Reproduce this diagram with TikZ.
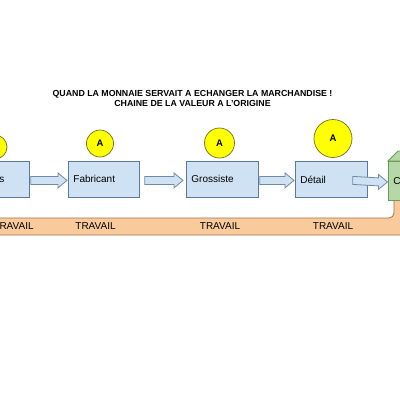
\documentclass[tikz,border=0pt]{standalone}
\usepackage{fontspec}
\setmainfont{Liberation Sans}
\usetikzlibrary{calc}
\definecolor{boxfill}{HTML}{CFE2F3}
\definecolor{boxline}{HTML}{5B7A99}
\definecolor{arrline}{HTML}{6F8AA8}
\definecolor{sun}{HTML}{FFFF00}
\definecolor{sunline}{HTML}{6E6E30}
\definecolor{greenfill}{HTML}{B6D7A8}
\definecolor{greenline}{HTML}{6A9A55}
\definecolor{bandfill}{HTML}{F9CB9C}
\definecolor{bandline}{HTML}{A6714A}
\tikzset{
  stepbox/.style={draw=boxline, fill=boxfill, line width=0.8pt, minimum height=36pt,
    inner xsep=5pt, inner ysep=0pt, align=left, anchor=north west,
    font=\fontsize{10}{12}\selectfont},
  sunnode/.style={circle, draw=sunline, fill=sun, line width=0.7pt, inner sep=0pt,
    font=\bfseries\fontsize{9.5}{11}\selectfont},
  workl/.style={font=\fontsize{10}{12}\selectfont, inner sep=0pt},
  arrowstyle/.style={draw=arrline, fill=boxfill, line width=0.8pt, line join=miter},
  greenbox/.style={draw=greenline, fill=greenfill, line width=0.8pt, minimum width=40pt,
    minimum height=39pt, anchor=north west, inner xsep=4.5pt, text width=30pt, align=left,
    font=\fontsize{10}{12}\selectfont},
  titlenode/.style={align=center, font=\bfseries\fontsize{8.8}{9.4}\selectfont, inner sep=0pt}
}
\newcommand\blockarrow[4]{%
  \draw[arrowstyle] ($(#1.east)+(#3,-3)$) -- ($(#2.west)+(-#4-9,-3)$) -- ($(#2.west)+(-#4-9,-6.5)$)
    -- ($(#2.west)+(-#4,1)$) -- ($(#2.west)+(-#4-9,8.5)$) -- ($(#2.west)+(-#4-9,5)$)
    -- ($(#1.east)+(#3,5)$) -- cycle;}
\begin{document}
\begin{tikzpicture}[x=1pt,y=-1pt]
\useasboundingbox[fill=white] (0,0) rectangle (400,400);
% title
\node[titlenode] (title) at (192.5,98.5) {QUAND LA MONNAIE SERVAIT A ECHANGER LA MARCHANDISE !\\CHAINE DE LA VALEUR A L'ORIGINE};
% travail band
\draw[fill=bandfill, draw=bandline, line width=0.8pt, rounded corners=5pt]
  (-10,218) -- (394,218) -- (394,190) -- (430,190) -- (430,235) -- (-10,235) -- cycle;
\node[workl] (t1) at (13.5,226.5) {TRAVAIL};
\node[workl] (t2) at (95.5,226.5) {TRAVAIL};
\node[workl] (t3) at (220,226.5) {TRAVAIL};
\node[workl] (t4) at (333,226.5) {TRAVAIL};
% boxes
\node[stepbox, text width=60pt] (b1) at (-41,161) {};
\node[workl, anchor=east] (s1) at (4.5,180) {s};
\node[stepbox, text width=61pt] (fab) at (68,161) {Fabricant};
\node[stepbox, text width=62pt] (gro) at (186,161) {Grossiste};
\node[stepbox, text width=62pt] (det) at (295,161) {D\'etail};
% circles
\node[sunnode, minimum size=24pt] (a0) at (-5,147) {};
\node[sunnode, minimum size=27pt] (a1) at (100,143.5) {A};
\node[sunnode, minimum size=30pt] (a2) at (219.5,143) {A};
\node[sunnode, minimum size=38pt] (a3) at (333,138.5) {A};
% consumer cube
\node[greenbox] (cons) at (388,161) {C};
\draw[draw=greenline, fill=greenfill, line width=0.8pt, line join=miter]
  (cons.north west) -- ++(10,-10) -- ++(40,0) -- (cons.north east) -- cycle;
% arrows
\blockarrow{b1}{fab}{1}{1}
\blockarrow{fab}{gro}{5}{3}
\blockarrow{gro}{det}{1}{1}
\blockarrow{det}{cons}{-15}{0.5}
\end{tikzpicture}
\end{document}
